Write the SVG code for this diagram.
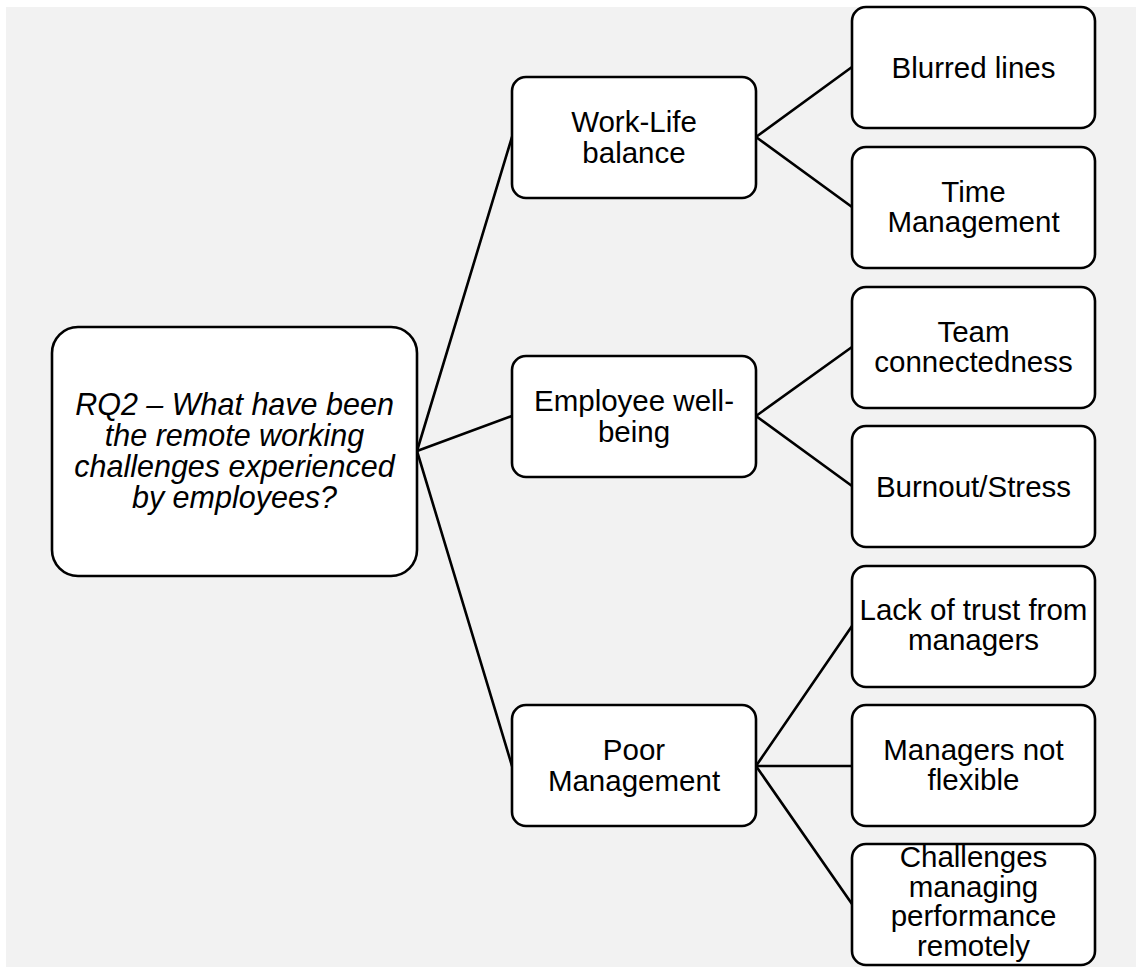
<svg xmlns="http://www.w3.org/2000/svg" width="1136" height="968" viewBox="0 0 1136 968">
  <style>
    .box { fill: #ffffff; stroke: #000000; stroke-width: 2.6; }
    .lbl { font-family: "Liberation Sans", Arial, sans-serif; font-size: 29.5px; fill: #000000; text-anchor: middle; }
    .q { font-style: italic; font-size: 30.5px; }
    .conn line { stroke: #000000; stroke-width: 2.6; stroke-linecap: round; }
  </style>

  <rect width="1136" height="968" fill="#ffffff"/>
  <rect x="6" y="7" width="1130" height="960" fill="#f2f2f2"/>

  <!-- connectors -->
  <g id="connectors" class="conn">
    <line x1="417" y1="451" x2="512" y2="137"/>
    <line x1="417" y1="451" x2="512" y2="416"/>
    <line x1="417" y1="451" x2="512" y2="766"/>
    <line x1="756" y1="137" x2="852" y2="67"/>
    <line x1="756" y1="137" x2="852" y2="207"/>
    <line x1="756" y1="416" x2="852" y2="347"/>
    <line x1="756" y1="416" x2="852" y2="486"/>
    <line x1="756" y1="766" x2="852" y2="626"/>
    <line x1="756" y1="766" x2="852" y2="766"/>
    <line x1="756" y1="766" x2="852" y2="904"/>
  </g>

  <!-- root question -->
  <g id="root">
    <rect class="box" x="52" y="327" width="365" height="249" rx="26"/>
    <text class="lbl q" x="234.5" y="415">RQ2 – What have been</text>
    <text class="lbl q" x="234.5" y="446">the remote working</text>
    <text class="lbl q" x="234.5" y="477">challenges experienced</text>
    <text class="lbl q" x="234.5" y="508">by employees?</text>
  </g>

  <!-- themes -->
  <g id="work-life">
    <rect class="box" x="512" y="77" width="244" height="121" rx="14"/>
    <text class="lbl" x="634" y="132">Work-Life</text>
    <text class="lbl" x="634" y="163">balance</text>
  </g>
  <g id="wellbeing">
    <rect class="box" x="512" y="356" width="244" height="121" rx="14"/>
    <text class="lbl" x="634" y="411">Employee well-</text>
    <text class="lbl" x="634" y="442">being</text>
  </g>
  <g id="poor-management">
    <rect class="box" x="512" y="705" width="244" height="121" rx="14"/>
    <text class="lbl" x="634" y="760">Poor</text>
    <text class="lbl" x="634" y="791">Management</text>
  </g>

  <!-- sub-themes -->
  <g id="blurred-lines">
    <rect class="box" x="852" y="7" width="243" height="121" rx="14"/>
    <text class="lbl" x="973.5" y="78">Blurred lines</text>
  </g>
  <g id="time-management">
    <rect class="box" x="852" y="147" width="243" height="121" rx="14"/>
    <text class="lbl" x="973.5" y="202">Time</text>
    <text class="lbl" x="973.5" y="232">Management</text>
  </g>
  <g id="team-connectedness">
    <rect class="box" x="852" y="287" width="243" height="121" rx="14"/>
    <text class="lbl" x="973.5" y="342">Team</text>
    <text class="lbl" x="973.5" y="372">connectedness</text>
  </g>
  <g id="burnout">
    <rect class="box" x="852" y="426" width="243" height="121" rx="14"/>
    <text class="lbl" x="973.5" y="497">Burnout/Stress</text>
  </g>
  <g id="lack-of-trust">
    <rect class="box" x="852" y="566" width="243" height="121" rx="14"/>
    <text class="lbl" x="973.5" y="620">Lack of trust from</text>
    <text class="lbl" x="973.5" y="650">managers</text>
  </g>
  <g id="not-flexible">
    <rect class="box" x="852" y="705" width="243" height="121" rx="14"/>
    <text class="lbl" x="973.5" y="760">Managers not</text>
    <text class="lbl" x="973.5" y="790">flexible</text>
  </g>
  <g id="performance">
    <rect class="box" x="852" y="844" width="243" height="121" rx="14"/>
    <text class="lbl" x="973.5" y="867">Challenges</text>
    <text class="lbl" x="973.5" y="896.5">managing</text>
    <text class="lbl" x="973.5" y="926">performance</text>
    <text class="lbl" x="973.5" y="955.5">remotely</text>
  </g>
</svg>
